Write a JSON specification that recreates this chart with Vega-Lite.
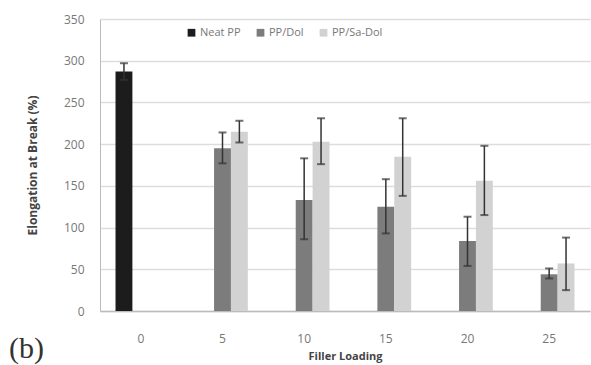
{
  "$schema": "https://vega.github.io/schema/vega-lite/v6.json",
  "width": 490,
  "height": 292,
  "autosize": {"type": "none"},
  "padding": {"left": 100, "top": 19, "right": 1, "bottom": 54},
  "background": "white",
  "config": {
    "font": "Open Sans",
    "view": {"stroke": null}
  },
  "title": {
    "text": "(b)",
    "orient": "bottom",
    "anchor": "start",
    "frame": "group",
    "font": "Liberation Serif",
    "fontSize": 30,
    "fontWeight": "normal",
    "color": "#333333",
    "dx": -91,
    "dy": -31
  },
  "data": {
    "values": [
      {"loading": "0", "series": "Neat PP", "value": 287, "lo": 277, "hi": 297},
      {"loading": "5", "series": "PP/Dol", "value": 195, "lo": 177, "hi": 214},
      {"loading": "5", "series": "PP/Sa-Dol", "value": 215, "lo": 202, "hi": 228},
      {"loading": "10", "series": "PP/Dol", "value": 133, "lo": 86, "hi": 183},
      {"loading": "10", "series": "PP/Sa-Dol", "value": 203, "lo": 176, "hi": 231},
      {"loading": "15", "series": "PP/Dol", "value": 125, "lo": 93, "hi": 158},
      {"loading": "15", "series": "PP/Sa-Dol", "value": 185, "lo": 138, "hi": 231},
      {"loading": "20", "series": "PP/Dol", "value": 84, "lo": 54, "hi": 113},
      {"loading": "20", "series": "PP/Sa-Dol", "value": 156, "lo": 115, "hi": 198},
      {"loading": "25", "series": "PP/Dol", "value": 44, "lo": 39, "hi": 51},
      {"loading": "25", "series": "PP/Sa-Dol", "value": 57, "lo": 25, "hi": 88}
    ]
  },
  "encoding": {
    "x": {
      "field": "loading",
      "type": "ordinal",
      "sort": ["0", "5", "10", "15", "20", "25"],
      "scale": {"paddingInner": 0.38, "paddingOuter": 0.19},
      "axis": {
        "title": "Filler Loading",
        "titleFont": "Open Sans",
        "titleFontSize": 11,
        "titleFontWeight": "bold",
        "titleColor": "#444444",
        "titlePadding": 6,
        "labelAngle": 0,
        "labelFontSize": 12,
        "labelColor": "#777777",
        "labelPadding": 22,
        "ticks": false,
        "domainColor": "#bbbbbb",
        "domainWidth": 1.5
      }
    },
    "xOffset": {
      "field": "series",
      "type": "nominal",
      "scale": {"domain": ["Neat PP", "PP/Dol", "PP/Sa-Dol"], "paddingInner": 0}
    }
  },
  "layer": [
    {
      "mark": {"type": "bar"},
      "encoding": {
        "y": {
          "field": "value",
          "type": "quantitative",
          "scale": {"domain": [0, 350]},
          "axis": {
            "title": "Elongation at Break (%)",
            "titleFontSize": 12,
            "titleFontWeight": "bold",
            "titleColor": "#444444",
            "titlePadding": 24,
            "values": [0, 50, 100, 150, 200, 250, 300, 350],
            "labelFontSize": 12,
            "labelColor": "#777777",
            "labelPadding": 16,
            "ticks": false,
            "domainColor": "#bbbbbb",
            "gridColor": "#dddddd",
            "gridWidth": 1.5
          }
        },
        "color": {
          "field": "series",
          "type": "nominal",
          "scale": {
            "domain": ["Neat PP", "PP/Dol", "PP/Sa-Dol"],
            "range": ["#1c1c1c", "#7c7c7c", "#d2d2d2"]
          },
          "legend": {
            "title": null,
            "orient": "none",
            "direction": "horizontal",
            "legendX": 86,
            "legendY": 8,
            "symbolType": "square",
            "symbolSize": 60,
            "labelFontSize": 11,
            "labelColor": "#777777",
            "columnPadding": 14,
            "labelOffset": 3
          }
        }
      }
    },
    {
      "mark": {"type": "rule", "color": "#333333", "strokeWidth": 1.5},
      "encoding": {
        "y": {"field": "lo", "type": "quantitative"},
        "y2": {"field": "hi"}
      }
    },
    {
      "mark": {"type": "tick", "color": "#333333", "thickness": 2, "size": 8, "orient": "horizontal"},
      "encoding": {"y": {"field": "lo", "type": "quantitative"}}
    },
    {
      "mark": {"type": "tick", "color": "#333333", "thickness": 2, "size": 8, "orient": "horizontal"},
      "encoding": {"y": {"field": "hi", "type": "quantitative"}}
    }
  ]
}
